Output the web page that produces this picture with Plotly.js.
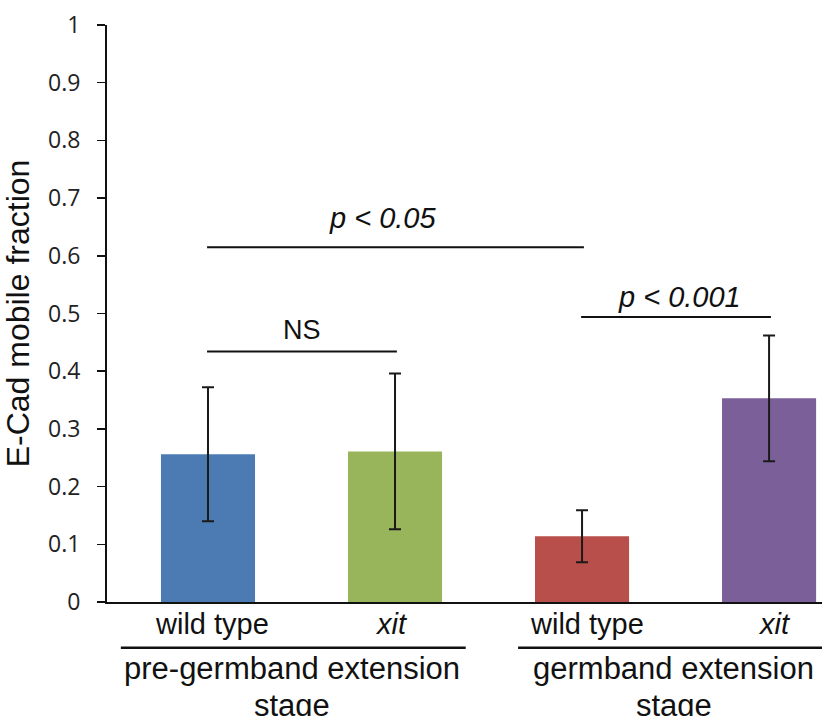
<!DOCTYPE html>
<html>
<head>
<meta charset="utf-8">
<script src="https://cdn.plot.ly/plotly-3.0.1.min.js"></script>
<style>html,body{margin:0;padding:0;background:#fff;}#chart{width:822px;height:716px;}</style>
</head>
<body>
<div id="chart"></div>
<script>
// ---- data ----
const categories = ["wild type", "<i>xit</i>", "wild type", "<i>xit</i>"];
const meanValues = [0.256, 0.261, 0.114, 0.353];
const errorValues = [0.116, 0.135, 0.045, 0.109];
const barColors = ["#4B7BB2", "#98B55B", "#B94F4B", "#7A5F99"];
const groupLabels = ["pre-germband extension<br>stage", "germband extension<br>stage"];
const groupMembers = [[0, 1], [2, 3]];
const yTickVals = [0, 0.1, 0.2, 0.3, 0.4, 0.5, 0.6, 0.7, 0.8, 0.9, 1];
const yTickText = ["0", "0.1", "0.2", "0.3", "0.4", "0.5", "0.6", "0.7", "0.8", "0.9", "1"];
// significance comparisons
const sigFrom = [0, 0, 2];
const sigTo = [1, 2, 3];
const sigLevel = [0.434, 0.615, 0.494];
const sigLabels = ["NS", "<i>p &lt; 0.05</i>", "<i>p &lt; 0.001</i>"];

// ---- presentation (not data) ----
const sigTextShiftPx = [22, 29, 20];
const sigTextXShiftPx = [0, -13, 3];
const groupLineLeft = [-0.466, -0.342];
const groupLineRight = [0.378, 0.283];
const groupTextXShift = [-0.05, -0.01];
const groupLineY = [-0.1144, -0.1795];
const catTextXShiftPx = [4, -4, 5, 5];
const FONT = "Liberation Sans, Arial, sans-serif";

const xIdx = categories.map((_, i) => i);

const trace = {
  type: "bar",
  x: xIdx,
  y: meanValues,
  width: 0.503,
  marker: { color: barColors, line: { width: 0 } },
  error_y: { type: "data", array: errorValues, visible: true, color: "#1a1a1a", thickness: 2, width: 6 },
  hoverinfo: "skip"
};

const shapes = [];
const annotations = [];

for (let k = 0; k < sigLabels.length; k++) {
  const x0 = sigFrom[k] - 0.005, x1 = sigTo[k] + 0.01;
  shapes.push({ type: "line", xref: "x", yref: "y", x0: x0, x1: x1, y0: sigLevel[k], y1: sigLevel[k],
    line: { color: "#111", width: 2 } });
  annotations.push({ xref: "x", yref: "y", x: (x0 + x1) / 2, y: sigLevel[k],
    text: sigLabels[k], showarrow: false, yanchor: "middle", yshift: sigTextShiftPx[k], xshift: sigTextXShiftPx[k],
    font: { family: FONT, size: k === 0 ? 27 : 29, color: "#111" } });
}

categories.forEach((c, i) => {
  annotations.push({ xref: "x", yref: "paper", x: i, y: -0.038, text: c, showarrow: false,
    xshift: catTextXShiftPx[i],
    yanchor: "middle", font: { family: FONT, size: 29, color: "#111" } });
});

groupMembers.forEach((m, g) => {
  const a = m[0], b = m[m.length - 1];
  const x0 = a + groupLineLeft[g], x1 = b + groupLineRight[g];
  shapes.push({ type: "line", xref: "x", yref: "paper", x0: x0, x1: x1, y0: -0.0792, y1: -0.0792,
    line: { color: "#111", width: 2.5 } });
  groupLabels[g].split("<br>").forEach((ln, j) => {
    annotations.push({ xref: "x", yref: "paper", x: (a + b) / 2 + groupTextXShift[g], y: groupLineY[j], text: ln,
      showarrow: false, yanchor: "middle", align: "center",
      font: { family: FONT, size: 31, color: "#111" } });
  });
});

const layout = {
  width: 822, height: 716,
  margin: { l: 107, r: 0, t: 25, b: 114, pad: 0 },
  paper_bgcolor: "#fff", plot_bgcolor: "#fff",
  showlegend: false,
  xaxis: {
    range: [-0.54, 3.283], showticklabels: false, ticks: "", showgrid: false, zeroline: false,
    showline: true, linecolor: "#111", linewidth: 2, fixedrange: true
  },
  yaxis: {
    range: [0, 1], tickvals: yTickVals, ticktext: yTickText, ticks: "outside", ticklen: 8, tickwidth: 1.5,
    tickcolor: "#111", showgrid: false, zeroline: false, showline: true, linecolor: "#111", linewidth: 2,
    ticklabelstandoff: 12,
    tickfont: { family: "Open Sans, Liberation Sans, sans-serif", size: 23, color: "#222" },
    title: { text: "E-Cad mobile fraction", standoff: 12,
      font: { family: FONT, size: 32, color: "#111" } },
    automargin: false, fixedrange: true
  },
  shapes: shapes,
  annotations: annotations,
  bargap: 0.5
};

Plotly.newPlot("chart", [trace], layout, { staticPlot: true, displayModeBar: false });
</script>
</body>
</html>
